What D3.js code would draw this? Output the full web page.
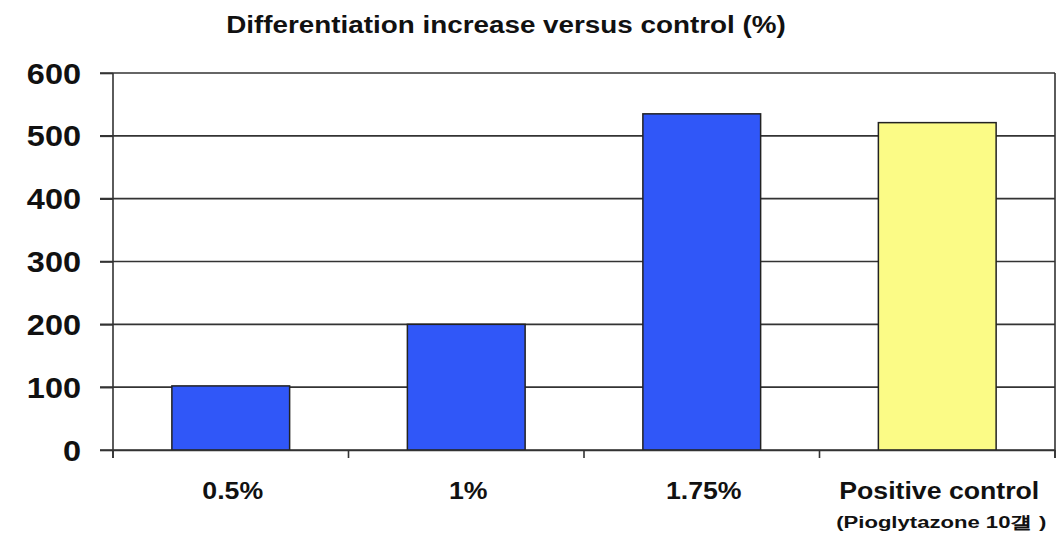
<!DOCTYPE html>
<html><head><meta charset="utf-8">
<script src="https://cdn.jsdelivr.net/npm/d3@7"></script>
<style>
html,body{margin:0;padding:0;background:#fff;}
svg text{font-family:"Liberation Sans",Arial,sans-serif;font-weight:bold;fill:#111;}
</style></head>
<body><svg id="c" width="1058" height="538"></svg>
<script>
const categories = ["0.5%", "1%", "1.75%", "Positive control"];
const subLabels = ["", "", "", "(Pioglytazone 10걜 )"];
const values = [102, 200, 535, 521];
const barColors = ["#3057f8", "#3057f8", "#3057f8", "#fbfb86"];
const yTicks = [0, 100, 200, 300, 400, 500, 600];
const title = "Differentiation increase versus control (%)";

(function () {
const svg = d3.select("#c");
const pL = 113, pR = 1055, pT = 73, pB = 450;
const x = d3.scaleBand().domain(categories).range([pL, pR]).paddingInner(0.5).paddingOuter(0.25);
const xb = d3.scaleBand().domain(categories).range([pL, pR]);
const y = d3.scaleLinear().domain([0, 600]).range([pB, pT]);

// horizontal stretch helper (reference text is wide)
function stretched(g, cx, cy, txt, size, sx, anchor) {
  return g.append("text")
    .attr("transform", `translate(${cx},${cy}) scale(${sx},1)`)
    .attr("text-anchor", anchor || "middle")
    .attr("font-size", size).text(txt);
}

// gridlines
svg.append("g").selectAll("line").data(yTicks).join("line")
  .attr("x1", pL - 13).attr("x2", pR)
  .attr("y1", d => y(d)).attr("y2", d => y(d))
  .attr("stroke", "#333").attr("stroke-width", 1.6);

// right border
svg.append("line").attr("x1", pR).attr("x2", pR).attr("y1", pT).attr("y2", pB + 8)
  .attr("stroke", "#333").attr("stroke-width", 1.6);

// bars
svg.append("g").selectAll("rect").data(values).join("rect")
  .attr("x", (d, i) => x(categories[i]))
  .attr("width", x.bandwidth())
  .attr("y", d => y(d))
  .attr("height", d => y(0) - y(d))
  .attr("fill", (d, i) => barColors[i])
  .attr("stroke", "#222").attr("stroke-width", 1.5);

// y axis
const ya = svg.append("g").attr("transform", `translate(${pL},0)`)
  .call(d3.axisLeft(y).tickValues(yTicks).tickSize(13).tickFormat(""));
ya.select(".domain").remove();
ya.append("line").attr("x1", 0).attr("x2", 0).attr("y1", pT).attr("y2", pB + 8)
  .attr("stroke", "#333").attr("stroke-width", 1.6);
ya.selectAll(".tick line").attr("stroke", "#333").attr("stroke-width", 1.6);
ya.selectAll(".tick").each(function (d) {
  stretched(d3.select(this), -32, 10, String(d), 29, 1.12, "end");
});

// x axis
const xa = svg.append("g").attr("transform", `translate(0,${pB})`)
  .call(d3.axisBottom(xb).tickSize(0).tickFormat(""));
xa.select(".domain").attr("stroke", "#333").attr("stroke-width", 1.6);
const bounds = categories.map(c => xb(c)).concat([pR]);
xa.selectAll(".bnd").data(bounds).join("line").attr("class", "bnd")
  .attr("x1", d => d).attr("x2", d => d).attr("y1", 0).attr("y2", 8)
  .attr("stroke", "#333").attr("stroke-width", 1.6);

const gl = svg.append("g");
categories.forEach((c, i) => {
  const cx = xb(c) + xb.bandwidth() / 2;
  stretched(gl, cx + 2, 499, c, 23, 1.16, "middle");
  if (subLabels[i]) stretched(gl, cx + 4, 528, subLabels[i], 17, 1.3, "middle");
});

stretched(svg, 506, 33, title, 23, 1.21, "middle");
})();
</script></body></html>
